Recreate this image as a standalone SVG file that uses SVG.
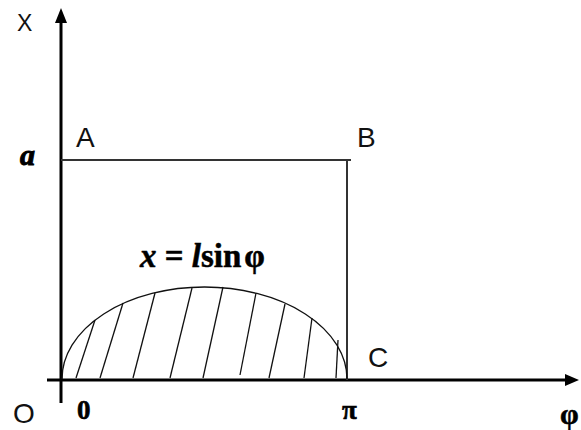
<svg xmlns="http://www.w3.org/2000/svg" width="581" height="430" viewBox="0 0 581 430">
<defs>
<style>
.lbl{font-family:"Liberation Sans",Arial,sans-serif;font-size:28px;fill:#111}
.math{font-family:"Liberation Serif","Times New Roman",serif;font-weight:bold;fill:#000}
.axis{stroke:#000;stroke-width:3;fill:none}
.thin{stroke:#333;stroke-width:2;fill:none}
.hatch{stroke:#111;stroke-width:1.3;fill:none}
</style>
</defs>
<rect width="581" height="430" fill="#fff"/>
<g id="axes">
<line class="axis" x1="61" y1="22" x2="61" y2="403"/>
<polygon points="61,8 55,23 67,23" fill="#000"/>
<line class="axis" x1="47" y1="380" x2="566" y2="380"/>
<polygon points="579,380 565,374 565,386" fill="#000"/>
</g>
<g id="rect">
<polyline class="thin" points="61,160 351,160"/>
<line class="thin" x1="347" y1="160" x2="347" y2="380"/>
</g>
<g id="curve">
<path class="hatch" d="M62,379 A142.5,92 0 0 1 347,379"/>
</g>
<g id="hatching">
<line class="hatch" x1="76" y1="378" x2="95" y2="320"/>
<line class="hatch" x1="100" y1="378" x2="123" y2="303"/>
<line class="hatch" x1="133" y1="378" x2="155" y2="293"/>
<line class="hatch" x1="170" y1="378" x2="192" y2="288"/>
<line class="hatch" x1="203" y1="378" x2="223" y2="287"/>
<line class="hatch" x1="240" y1="375" x2="256" y2="293"/>
<line class="hatch" x1="269" y1="378" x2="285" y2="304"/>
<line class="hatch" x1="304" y1="378" x2="312" y2="318"/>
<line class="hatch" x1="336" y1="378" x2="338" y2="340"/>
</g>
<g id="labels">
<text class="lbl" x="17" y="31" style="font-size:23px">X</text>
<text class="lbl" x="76" y="147">A</text>
<text class="lbl" x="357" y="147">B</text>
<text class="lbl" x="368" y="367">C</text>
<text class="lbl" x="13" y="423">O</text>
<text class="math" x="20" y="165" font-size="30" font-style="italic" stroke="#000" stroke-width="1">a</text>
<text class="math" x="77" y="419" font-size="27" stroke="#000" stroke-width="0.6">0</text>
<text class="math" x="342" y="419" font-size="27" stroke="#000" stroke-width="0.6">π</text>
<text class="math" x="560" y="424" font-size="30" stroke="#000" stroke-width="0.5">φ</text>
<text class="math" x="140" y="267" font-size="33" stroke="#000" stroke-width="0.5"><tspan font-style="italic">x</tspan><tspan> = </tspan><tspan font-style="italic">l</tspan><tspan>sin</tspan><tspan dx="3">φ</tspan></text>
</g>
</svg>
